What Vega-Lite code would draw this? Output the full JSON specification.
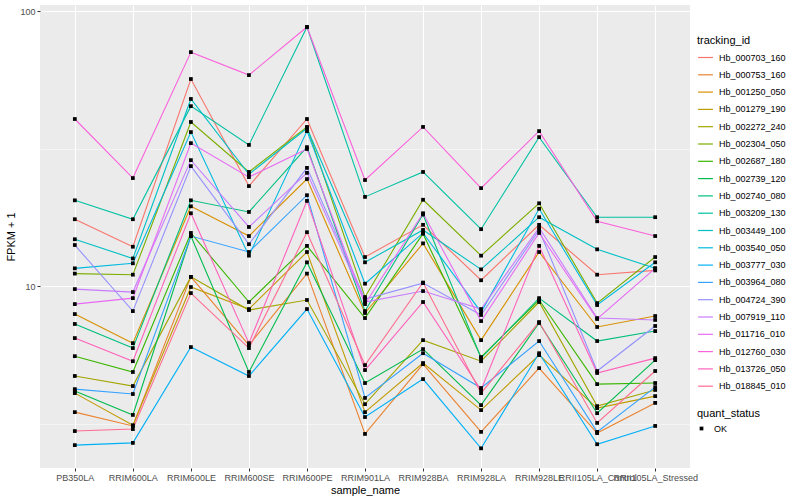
{
"$schema":"https://vega.github.io/schema/vega-lite/v6.json",
"width":650,"height":463,
"autosize":{"type":"none"},
"padding":{"left":40,"top":5,"right":110,"bottom":32},
"background":"white",
"config":{
 "view":{"fill":"#EBEBEB","stroke":null},
 "font":"Liberation Sans",
 "axis":{"domain":false,"gridColor":"white","tickColor":"#333333","tickSize":3,"labelColor":"#4D4D4D","labelFontSize":9,"titleFontSize":11,"titleFontWeight":"normal","titleColor":"black"},
 "legend":{"titleFontSize":11,"titleFontWeight":"normal","titleColor":"black","labelFontSize":9,"labelColor":"black"}
},
"datasets":{"d":[
{"tracking_id":"Hb_000703_160","sample_name":"PB350LA","fpkm":17.5,"quant_status":"OK"},
{"tracking_id":"Hb_000703_160","sample_name":"RRIM600LA","fpkm":13.9,"quant_status":"OK"},
{"tracking_id":"Hb_000703_160","sample_name":"RRIM600LE","fpkm":56.6,"quant_status":"OK"},
{"tracking_id":"Hb_000703_160","sample_name":"RRIM600SE","fpkm":23.1,"quant_status":"OK"},
{"tracking_id":"Hb_000703_160","sample_name":"RRIM600PE","fpkm":40.5,"quant_status":"OK"},
{"tracking_id":"Hb_000703_160","sample_name":"RRIM901LA","fpkm":12.75,"quant_status":"OK"},
{"tracking_id":"Hb_000703_160","sample_name":"RRIM928BA","fpkm":16.7,"quant_status":"OK"},
{"tracking_id":"Hb_000703_160","sample_name":"RRIM928LA","fpkm":10.5,"quant_status":"OK"},
{"tracking_id":"Hb_000703_160","sample_name":"RRIM928LE","fpkm":16.7,"quant_status":"OK"},
{"tracking_id":"Hb_000703_160","sample_name":"RRII105LA_Control","fpkm":11.0,"quant_status":"OK"},
{"tracking_id":"Hb_000703_160","sample_name":"RRII105LA_Stressed","fpkm":11.4,"quant_status":"OK"},
{"tracking_id":"Hb_000753_160","sample_name":"PB350LA","fpkm":3.48,"quant_status":"OK"},
{"tracking_id":"Hb_000753_160","sample_name":"RRIM600LA","fpkm":3.10,"quant_status":"OK"},
{"tracking_id":"Hb_000753_160","sample_name":"RRIM600LE","fpkm":10.8,"quant_status":"OK"},
{"tracking_id":"Hb_000753_160","sample_name":"RRIM600SE","fpkm":6.10,"quant_status":"OK"},
{"tracking_id":"Hb_000753_160","sample_name":"RRIM600PE","fpkm":11.1,"quant_status":"OK"},
{"tracking_id":"Hb_000753_160","sample_name":"RRIM901LA","fpkm":2.90,"quant_status":"OK"},
{"tracking_id":"Hb_000753_160","sample_name":"RRIM928BA","fpkm":5.20,"quant_status":"OK"},
{"tracking_id":"Hb_000753_160","sample_name":"RRIM928LA","fpkm":2.95,"quant_status":"OK"},
{"tracking_id":"Hb_000753_160","sample_name":"RRIM928LE","fpkm":5.03,"quant_status":"OK"},
{"tracking_id":"Hb_000753_160","sample_name":"RRII105LA_Control","fpkm":2.92,"quant_status":"OK"},
{"tracking_id":"Hb_000753_160","sample_name":"RRII105LA_Stressed","fpkm":3.76,"quant_status":"OK"},
{"tracking_id":"Hb_001250_050","sample_name":"PB350LA","fpkm":7.91,"quant_status":"OK"},
{"tracking_id":"Hb_001250_050","sample_name":"RRIM600LA","fpkm":6.20,"quant_status":"OK"},
{"tracking_id":"Hb_001250_050","sample_name":"RRIM600LE","fpkm":19.5,"quant_status":"OK"},
{"tracking_id":"Hb_001250_050","sample_name":"RRIM600SE","fpkm":15.2,"quant_status":"OK"},
{"tracking_id":"Hb_001250_050","sample_name":"RRIM600PE","fpkm":24.5,"quant_status":"OK"},
{"tracking_id":"Hb_001250_050","sample_name":"RRIM901LA","fpkm":7.98,"quant_status":"OK"},
{"tracking_id":"Hb_001250_050","sample_name":"RRIM928BA","fpkm":14.3,"quant_status":"OK"},
{"tracking_id":"Hb_001250_050","sample_name":"RRIM928LA","fpkm":6.36,"quant_status":"OK"},
{"tracking_id":"Hb_001250_050","sample_name":"RRIM928LE","fpkm":13.3,"quant_status":"OK"},
{"tracking_id":"Hb_001250_050","sample_name":"RRII105LA_Control","fpkm":7.10,"quant_status":"OK"},
{"tracking_id":"Hb_001250_050","sample_name":"RRII105LA_Stressed","fpkm":7.78,"quant_status":"OK"},
{"tracking_id":"Hb_001279_190","sample_name":"PB350LA","fpkm":4.08,"quant_status":"OK"},
{"tracking_id":"Hb_001279_190","sample_name":"RRIM600LA","fpkm":3.12,"quant_status":"OK"},
{"tracking_id":"Hb_001279_190","sample_name":"RRIM600LE","fpkm":9.92,"quant_status":"OK"},
{"tracking_id":"Hb_001279_190","sample_name":"RRIM600SE","fpkm":8.25,"quant_status":"OK"},
{"tracking_id":"Hb_001279_190","sample_name":"RRIM600PE","fpkm":13.3,"quant_status":"OK"},
{"tracking_id":"Hb_001279_190","sample_name":"RRIM901LA","fpkm":3.48,"quant_status":"OK"},
{"tracking_id":"Hb_001279_190","sample_name":"RRIM928BA","fpkm":5.25,"quant_status":"OK"},
{"tracking_id":"Hb_001279_190","sample_name":"RRIM928LA","fpkm":3.54,"quant_status":"OK"},
{"tracking_id":"Hb_001279_190","sample_name":"RRIM928LE","fpkm":5.61,"quant_status":"OK"},
{"tracking_id":"Hb_001279_190","sample_name":"RRII105LA_Control","fpkm":3.60,"quant_status":"OK"},
{"tracking_id":"Hb_001279_190","sample_name":"RRII105LA_Stressed","fpkm":3.98,"quant_status":"OK"},
{"tracking_id":"Hb_002272_240","sample_name":"PB350LA","fpkm":4.71,"quant_status":"OK"},
{"tracking_id":"Hb_002272_240","sample_name":"RRIM600LA","fpkm":4.33,"quant_status":"OK"},
{"tracking_id":"Hb_002272_240","sample_name":"RRIM600LE","fpkm":10.8,"quant_status":"OK"},
{"tracking_id":"Hb_002272_240","sample_name":"RRIM600SE","fpkm":8.18,"quant_status":"OK"},
{"tracking_id":"Hb_002272_240","sample_name":"RRIM600PE","fpkm":8.90,"quant_status":"OK"},
{"tracking_id":"Hb_002272_240","sample_name":"RRIM901LA","fpkm":3.72,"quant_status":"OK"},
{"tracking_id":"Hb_002272_240","sample_name":"RRIM928BA","fpkm":6.36,"quant_status":"OK"},
{"tracking_id":"Hb_002272_240","sample_name":"RRIM928LA","fpkm":5.33,"quant_status":"OK"},
{"tracking_id":"Hb_002272_240","sample_name":"RRIM928LE","fpkm":8.75,"quant_status":"OK"},
{"tracking_id":"Hb_002272_240","sample_name":"RRII105LA_Control","fpkm":3.66,"quant_status":"OK"},
{"tracking_id":"Hb_002272_240","sample_name":"RRII105LA_Stressed","fpkm":4.19,"quant_status":"OK"},
{"tracking_id":"Hb_002304_050","sample_name":"PB350LA","fpkm":11.1,"quant_status":"OK"},
{"tracking_id":"Hb_002304_050","sample_name":"RRIM600LA","fpkm":11.0,"quant_status":"OK"},
{"tracking_id":"Hb_002304_050","sample_name":"RRIM600LE","fpkm":39.5,"quant_status":"OK"},
{"tracking_id":"Hb_002304_050","sample_name":"RRIM600SE","fpkm":26.0,"quant_status":"OK"},
{"tracking_id":"Hb_002304_050","sample_name":"RRIM600PE","fpkm":37.9,"quant_status":"OK"},
{"tracking_id":"Hb_002304_050","sample_name":"RRIM901LA","fpkm":9.12,"quant_status":"OK"},
{"tracking_id":"Hb_002304_050","sample_name":"RRIM928BA","fpkm":20.6,"quant_status":"OK"},
{"tracking_id":"Hb_002304_050","sample_name":"RRIM928LA","fpkm":12.9,"quant_status":"OK"},
{"tracking_id":"Hb_002304_050","sample_name":"RRIM928LE","fpkm":20.0,"quant_status":"OK"},
{"tracking_id":"Hb_002304_050","sample_name":"RRII105LA_Control","fpkm":8.67,"quant_status":"OK"},
{"tracking_id":"Hb_002304_050","sample_name":"RRII105LA_Stressed","fpkm":12.75,"quant_status":"OK"},
{"tracking_id":"Hb_002687_180","sample_name":"PB350LA","fpkm":5.56,"quant_status":"OK"},
{"tracking_id":"Hb_002687_180","sample_name":"RRIM600LA","fpkm":4.87,"quant_status":"OK"},
{"tracking_id":"Hb_002687_180","sample_name":"RRIM600LE","fpkm":15.6,"quant_status":"OK"},
{"tracking_id":"Hb_002687_180","sample_name":"RRIM600SE","fpkm":8.75,"quant_status":"OK"},
{"tracking_id":"Hb_002687_180","sample_name":"RRIM600PE","fpkm":14.0,"quant_status":"OK"},
{"tracking_id":"Hb_002687_180","sample_name":"RRIM901LA","fpkm":7.65,"quant_status":"OK"},
{"tracking_id":"Hb_002687_180","sample_name":"RRIM928BA","fpkm":15.5,"quant_status":"OK"},
{"tracking_id":"Hb_002687_180","sample_name":"RRIM928LA","fpkm":5.52,"quant_status":"OK"},
{"tracking_id":"Hb_002687_180","sample_name":"RRIM928LE","fpkm":8.90,"quant_status":"OK"},
{"tracking_id":"Hb_002687_180","sample_name":"RRII105LA_Control","fpkm":4.40,"quant_status":"OK"},
{"tracking_id":"Hb_002687_180","sample_name":"RRII105LA_Stressed","fpkm":4.44,"quant_status":"OK"},
{"tracking_id":"Hb_002739_120","sample_name":"PB350LA","fpkm":4.15,"quant_status":"OK"},
{"tracking_id":"Hb_002739_120","sample_name":"RRIM600LA","fpkm":3.40,"quant_status":"OK"},
{"tracking_id":"Hb_002739_120","sample_name":"RRIM600LE","fpkm":15.2,"quant_status":"OK"},
{"tracking_id":"Hb_002739_120","sample_name":"RRIM600SE","fpkm":4.87,"quant_status":"OK"},
{"tracking_id":"Hb_002739_120","sample_name":"RRIM600PE","fpkm":12.2,"quant_status":"OK"},
{"tracking_id":"Hb_002739_120","sample_name":"RRIM901LA","fpkm":4.44,"quant_status":"OK"},
{"tracking_id":"Hb_002739_120","sample_name":"RRIM928BA","fpkm":5.90,"quant_status":"OK"},
{"tracking_id":"Hb_002739_120","sample_name":"RRIM928LA","fpkm":3.69,"quant_status":"OK"},
{"tracking_id":"Hb_002739_120","sample_name":"RRIM928LE","fpkm":7.34,"quant_status":"OK"},
{"tracking_id":"Hb_002739_120","sample_name":"RRII105LA_Control","fpkm":3.45,"quant_status":"OK"},
{"tracking_id":"Hb_002739_120","sample_name":"RRII105LA_Stressed","fpkm":5.38,"quant_status":"OK"},
{"tracking_id":"Hb_002740_080","sample_name":"PB350LA","fpkm":7.28,"quant_status":"OK"},
{"tracking_id":"Hb_002740_080","sample_name":"RRIM600LA","fpkm":5.95,"quant_status":"OK"},
{"tracking_id":"Hb_002740_080","sample_name":"RRIM600LE","fpkm":20.5,"quant_status":"OK"},
{"tracking_id":"Hb_002740_080","sample_name":"RRIM600SE","fpkm":18.6,"quant_status":"OK"},
{"tracking_id":"Hb_002740_080","sample_name":"RRIM600PE","fpkm":32.0,"quant_status":"OK"},
{"tracking_id":"Hb_002740_080","sample_name":"RRIM901LA","fpkm":8.11,"quant_status":"OK"},
{"tracking_id":"Hb_002740_080","sample_name":"RRIM928BA","fpkm":18.2,"quant_status":"OK"},
{"tracking_id":"Hb_002740_080","sample_name":"RRIM928LA","fpkm":5.47,"quant_status":"OK"},
{"tracking_id":"Hb_002740_080","sample_name":"RRIM928LE","fpkm":9.04,"quant_status":"OK"},
{"tracking_id":"Hb_002740_080","sample_name":"RRII105LA_Control","fpkm":6.31,"quant_status":"OK"},
{"tracking_id":"Hb_002740_080","sample_name":"RRII105LA_Stressed","fpkm":6.86,"quant_status":"OK"},
{"tracking_id":"Hb_003209_130","sample_name":"PB350LA","fpkm":20.5,"quant_status":"OK"},
{"tracking_id":"Hb_003209_130","sample_name":"RRIM600LA","fpkm":17.5,"quant_status":"OK"},
{"tracking_id":"Hb_003209_130","sample_name":"RRIM600LE","fpkm":45.1,"quant_status":"OK"},
{"tracking_id":"Hb_003209_130","sample_name":"RRIM600SE","fpkm":32.6,"quant_status":"OK"},
{"tracking_id":"Hb_003209_130","sample_name":"RRIM600PE","fpkm":87.5,"quant_status":"OK"},
{"tracking_id":"Hb_003209_130","sample_name":"RRIM901LA","fpkm":21.1,"quant_status":"OK"},
{"tracking_id":"Hb_003209_130","sample_name":"RRIM928BA","fpkm":26.0,"quant_status":"OK"},
{"tracking_id":"Hb_003209_130","sample_name":"RRIM928LA","fpkm":16.1,"quant_status":"OK"},
{"tracking_id":"Hb_003209_130","sample_name":"RRIM928LE","fpkm":34.8,"quant_status":"OK"},
{"tracking_id":"Hb_003209_130","sample_name":"RRII105LA_Control","fpkm":17.8,"quant_status":"OK"},
{"tracking_id":"Hb_003209_130","sample_name":"RRII105LA_Stressed","fpkm":17.8,"quant_status":"OK"},
{"tracking_id":"Hb_003449_100","sample_name":"PB350LA","fpkm":14.8,"quant_status":"OK"},
{"tracking_id":"Hb_003449_100","sample_name":"RRIM600LA","fpkm":12.6,"quant_status":"OK"},
{"tracking_id":"Hb_003449_100","sample_name":"RRIM600LE","fpkm":47.9,"quant_status":"OK"},
{"tracking_id":"Hb_003449_100","sample_name":"RRIM600SE","fpkm":25.5,"quant_status":"OK"},
{"tracking_id":"Hb_003449_100","sample_name":"RRIM600PE","fpkm":37.5,"quant_status":"OK"},
{"tracking_id":"Hb_003449_100","sample_name":"RRIM901LA","fpkm":12.2,"quant_status":"OK"},
{"tracking_id":"Hb_003449_100","sample_name":"RRIM928BA","fpkm":16.0,"quant_status":"OK"},
{"tracking_id":"Hb_003449_100","sample_name":"RRIM928LA","fpkm":11.5,"quant_status":"OK"},
{"tracking_id":"Hb_003449_100","sample_name":"RRIM928LE","fpkm":17.8,"quant_status":"OK"},
{"tracking_id":"Hb_003449_100","sample_name":"RRII105LA_Control","fpkm":13.6,"quant_status":"OK"},
{"tracking_id":"Hb_003449_100","sample_name":"RRII105LA_Stressed","fpkm":11.6,"quant_status":"OK"},
{"tracking_id":"Hb_003540_050","sample_name":"PB350LA","fpkm":11.6,"quant_status":"OK"},
{"tracking_id":"Hb_003540_050","sample_name":"RRIM600LA","fpkm":12.1,"quant_status":"OK"},
{"tracking_id":"Hb_003540_050","sample_name":"RRIM600LE","fpkm":36.3,"quant_status":"OK"},
{"tracking_id":"Hb_003540_050","sample_name":"RRIM600SE","fpkm":12.9,"quant_status":"OK"},
{"tracking_id":"Hb_003540_050","sample_name":"RRIM600PE","fpkm":36.6,"quant_status":"OK"},
{"tracking_id":"Hb_003540_050","sample_name":"RRIM901LA","fpkm":10.2,"quant_status":"OK"},
{"tracking_id":"Hb_003540_050","sample_name":"RRIM928BA","fpkm":15.6,"quant_status":"OK"},
{"tracking_id":"Hb_003540_050","sample_name":"RRIM928LA","fpkm":8.04,"quant_status":"OK"},
{"tracking_id":"Hb_003540_050","sample_name":"RRIM928LE","fpkm":19.1,"quant_status":"OK"},
{"tracking_id":"Hb_003540_050","sample_name":"RRII105LA_Control","fpkm":8.53,"quant_status":"OK"},
{"tracking_id":"Hb_003540_050","sample_name":"RRII105LA_Stressed","fpkm":12.2,"quant_status":"OK"},
{"tracking_id":"Hb_003777_030","sample_name":"PB350LA","fpkm":2.64,"quant_status":"OK"},
{"tracking_id":"Hb_003777_030","sample_name":"RRIM600LA","fpkm":2.69,"quant_status":"OK"},
{"tracking_id":"Hb_003777_030","sample_name":"RRIM600LE","fpkm":6.00,"quant_status":"OK"},
{"tracking_id":"Hb_003777_030","sample_name":"RRIM600SE","fpkm":4.71,"quant_status":"OK"},
{"tracking_id":"Hb_003777_030","sample_name":"RRIM600PE","fpkm":8.25,"quant_status":"OK"},
{"tracking_id":"Hb_003777_030","sample_name":"RRIM901LA","fpkm":3.34,"quant_status":"OK"},
{"tracking_id":"Hb_003777_030","sample_name":"RRIM928BA","fpkm":4.59,"quant_status":"OK"},
{"tracking_id":"Hb_003777_030","sample_name":"RRIM928LA","fpkm":2.57,"quant_status":"OK"},
{"tracking_id":"Hb_003777_030","sample_name":"RRIM928LE","fpkm":5.70,"quant_status":"OK"},
{"tracking_id":"Hb_003777_030","sample_name":"RRII105LA_Control","fpkm":2.66,"quant_status":"OK"},
{"tracking_id":"Hb_003777_030","sample_name":"RRII105LA_Stressed","fpkm":3.10,"quant_status":"OK"},
{"tracking_id":"Hb_003964_080","sample_name":"PB350LA","fpkm":4.22,"quant_status":"OK"},
{"tracking_id":"Hb_003964_080","sample_name":"RRIM600LA","fpkm":4.05,"quant_status":"OK"},
{"tracking_id":"Hb_003964_080","sample_name":"RRIM600LE","fpkm":15.2,"quant_status":"OK"},
{"tracking_id":"Hb_003964_080","sample_name":"RRIM600SE","fpkm":13.3,"quant_status":"OK"},
{"tracking_id":"Hb_003964_080","sample_name":"RRIM600PE","fpkm":21.4,"quant_status":"OK"},
{"tracking_id":"Hb_003964_080","sample_name":"RRIM901LA","fpkm":3.92,"quant_status":"OK"},
{"tracking_id":"Hb_003964_080","sample_name":"RRIM928BA","fpkm":5.70,"quant_status":"OK"},
{"tracking_id":"Hb_003964_080","sample_name":"RRIM928LA","fpkm":4.26,"quant_status":"OK"},
{"tracking_id":"Hb_003964_080","sample_name":"RRIM928LE","fpkm":6.31,"quant_status":"OK"},
{"tracking_id":"Hb_003964_080","sample_name":"RRII105LA_Control","fpkm":2.95,"quant_status":"OK"},
{"tracking_id":"Hb_003964_080","sample_name":"RRII105LA_Stressed","fpkm":4.29,"quant_status":"OK"},
{"tracking_id":"Hb_004724_390","sample_name":"PB350LA","fpkm":14.1,"quant_status":"OK"},
{"tracking_id":"Hb_004724_390","sample_name":"RRIM600LA","fpkm":8.11,"quant_status":"OK"},
{"tracking_id":"Hb_004724_390","sample_name":"RRIM600LE","fpkm":27.3,"quant_status":"OK"},
{"tracking_id":"Hb_004724_390","sample_name":"RRIM600SE","fpkm":14.2,"quant_status":"OK"},
{"tracking_id":"Hb_004724_390","sample_name":"RRIM600PE","fpkm":26.9,"quant_status":"OK"},
{"tracking_id":"Hb_004724_390","sample_name":"RRIM901LA","fpkm":8.97,"quant_status":"OK"},
{"tracking_id":"Hb_004724_390","sample_name":"RRIM928BA","fpkm":10.25,"quant_status":"OK"},
{"tracking_id":"Hb_004724_390","sample_name":"RRIM928LA","fpkm":7.85,"quant_status":"OK"},
{"tracking_id":"Hb_004724_390","sample_name":"RRIM928LE","fpkm":16.0,"quant_status":"OK"},
{"tracking_id":"Hb_004724_390","sample_name":"RRII105LA_Control","fpkm":4.91,"quant_status":"OK"},
{"tracking_id":"Hb_004724_390","sample_name":"RRII105LA_Stressed","fpkm":7.16,"quant_status":"OK"},
{"tracking_id":"Hb_007919_110","sample_name":"PB350LA","fpkm":9.75,"quant_status":"OK"},
{"tracking_id":"Hb_007919_110","sample_name":"RRIM600LA","fpkm":9.51,"quant_status":"OK"},
{"tracking_id":"Hb_007919_110","sample_name":"RRIM600LE","fpkm":28.7,"quant_status":"OK"},
{"tracking_id":"Hb_007919_110","sample_name":"RRIM600SE","fpkm":16.4,"quant_status":"OK"},
{"tracking_id":"Hb_007919_110","sample_name":"RRIM600PE","fpkm":25.8,"quant_status":"OK"},
{"tracking_id":"Hb_007919_110","sample_name":"RRIM901LA","fpkm":8.75,"quant_status":"OK"},
{"tracking_id":"Hb_007919_110","sample_name":"RRIM928BA","fpkm":9.59,"quant_status":"OK"},
{"tracking_id":"Hb_007919_110","sample_name":"RRIM928LA","fpkm":8.25,"quant_status":"OK"},
{"tracking_id":"Hb_007919_110","sample_name":"RRIM928LE","fpkm":16.3,"quant_status":"OK"},
{"tracking_id":"Hb_007919_110","sample_name":"RRII105LA_Control","fpkm":7.65,"quant_status":"OK"},
{"tracking_id":"Hb_007919_110","sample_name":"RRII105LA_Stressed","fpkm":7.53,"quant_status":"OK"},
{"tracking_id":"Hb_011716_010","sample_name":"PB350LA","fpkm":8.60,"quant_status":"OK"},
{"tracking_id":"Hb_011716_010","sample_name":"RRIM600LA","fpkm":9.04,"quant_status":"OK"},
{"tracking_id":"Hb_011716_010","sample_name":"RRIM600LE","fpkm":33.1,"quant_status":"OK"},
{"tracking_id":"Hb_011716_010","sample_name":"RRIM600SE","fpkm":24.9,"quant_status":"OK"},
{"tracking_id":"Hb_011716_010","sample_name":"RRIM600PE","fpkm":31.5,"quant_status":"OK"},
{"tracking_id":"Hb_011716_010","sample_name":"RRIM901LA","fpkm":8.60,"quant_status":"OK"},
{"tracking_id":"Hb_011716_010","sample_name":"RRIM928BA","fpkm":18.4,"quant_status":"OK"},
{"tracking_id":"Hb_011716_010","sample_name":"RRIM928LA","fpkm":7.46,"quant_status":"OK"},
{"tracking_id":"Hb_011716_010","sample_name":"RRIM928LE","fpkm":15.6,"quant_status":"OK"},
{"tracking_id":"Hb_011716_010","sample_name":"RRII105LA_Control","fpkm":7.59,"quant_status":"OK"},
{"tracking_id":"Hb_011716_010","sample_name":"RRII105LA_Stressed","fpkm":11.6,"quant_status":"OK"},
{"tracking_id":"Hb_012760_030","sample_name":"PB350LA","fpkm":40.5,"quant_status":"OK"},
{"tracking_id":"Hb_012760_030","sample_name":"RRIM600LA","fpkm":24.7,"quant_status":"OK"},
{"tracking_id":"Hb_012760_030","sample_name":"RRIM600LE","fpkm":70.9,"quant_status":"OK"},
{"tracking_id":"Hb_012760_030","sample_name":"RRIM600SE","fpkm":58.5,"quant_status":"OK"},
{"tracking_id":"Hb_012760_030","sample_name":"RRIM600PE","fpkm":87.5,"quant_status":"OK"},
{"tracking_id":"Hb_012760_030","sample_name":"RRIM901LA","fpkm":24.3,"quant_status":"OK"},
{"tracking_id":"Hb_012760_030","sample_name":"RRIM928BA","fpkm":37.9,"quant_status":"OK"},
{"tracking_id":"Hb_012760_030","sample_name":"RRIM928LA","fpkm":22.7,"quant_status":"OK"},
{"tracking_id":"Hb_012760_030","sample_name":"RRIM928LE","fpkm":36.6,"quant_status":"OK"},
{"tracking_id":"Hb_012760_030","sample_name":"RRII105LA_Control","fpkm":17.2,"quant_status":"OK"},
{"tracking_id":"Hb_012760_030","sample_name":"RRII105LA_Stressed","fpkm":15.2,"quant_status":"OK"},
{"tracking_id":"Hb_013726_050","sample_name":"PB350LA","fpkm":6.47,"quant_status":"OK"},
{"tracking_id":"Hb_013726_050","sample_name":"RRIM600LA","fpkm":5.33,"quant_status":"OK"},
{"tracking_id":"Hb_013726_050","sample_name":"RRIM600LE","fpkm":18.4,"quant_status":"OK"},
{"tracking_id":"Hb_013726_050","sample_name":"RRIM600SE","fpkm":6.20,"quant_status":"OK"},
{"tracking_id":"Hb_013726_050","sample_name":"RRIM600PE","fpkm":20.4,"quant_status":"OK"},
{"tracking_id":"Hb_013726_050","sample_name":"RRIM901LA","fpkm":4.95,"quant_status":"OK"},
{"tracking_id":"Hb_013726_050","sample_name":"RRIM928BA","fpkm":8.75,"quant_status":"OK"},
{"tracking_id":"Hb_013726_050","sample_name":"RRIM928LA","fpkm":4.19,"quant_status":"OK"},
{"tracking_id":"Hb_013726_050","sample_name":"RRIM928LE","fpkm":14.0,"quant_status":"OK"},
{"tracking_id":"Hb_013726_050","sample_name":"RRII105LA_Control","fpkm":4.83,"quant_status":"OK"},
{"tracking_id":"Hb_013726_050","sample_name":"RRII105LA_Stressed","fpkm":5.47,"quant_status":"OK"},
{"tracking_id":"Hb_018845_010","sample_name":"PB350LA","fpkm":2.97,"quant_status":"OK"},
{"tracking_id":"Hb_018845_010","sample_name":"RRIM600LA","fpkm":3.02,"quant_status":"OK"},
{"tracking_id":"Hb_018845_010","sample_name":"RRIM600LE","fpkm":9.43,"quant_status":"OK"},
{"tracking_id":"Hb_018845_010","sample_name":"RRIM600SE","fpkm":5.95,"quant_status":"OK"},
{"tracking_id":"Hb_018845_010","sample_name":"RRIM600PE","fpkm":15.7,"quant_status":"OK"},
{"tracking_id":"Hb_018845_010","sample_name":"RRIM901LA","fpkm":5.16,"quant_status":"OK"},
{"tracking_id":"Hb_018845_010","sample_name":"RRIM928BA","fpkm":10.3,"quant_status":"OK"},
{"tracking_id":"Hb_018845_010","sample_name":"RRIM928LA","fpkm":4.08,"quant_status":"OK"},
{"tracking_id":"Hb_018845_010","sample_name":"RRIM928LE","fpkm":7.40,"quant_status":"OK"},
{"tracking_id":"Hb_018845_010","sample_name":"RRII105LA_Control","fpkm":3.18,"quant_status":"OK"},
{"tracking_id":"Hb_018845_010","sample_name":"RRII105LA_Stressed","fpkm":4.91,"quant_status":"OK"}
]},
"data":{"name":"d"},
"encoding":{
 "x":{"field":"sample_name","type":"ordinal","sort":["PB350LA","RRIM600LA","RRIM600LE","RRIM600SE","RRIM600PE","RRIM901LA","RRIM928BA","RRIM928LA","RRIM928LE","RRII105LA_Control","RRII105LA_Stressed"],
  "scale":{"type":"point","padding":0.6},
  "axis":{"title":"sample_name","labelAngle":0,"grid":true,"gridWidth":1.1,"labelPadding":2,"titlePadding":2,"labelOverlap":false,"labelBound":false}},
 "y":{"field":"fpkm","type":"quantitative",
  "scale":{"type":"log","domain":[2.18,105.2],"nice":false,"zero":false},
  "axis":{"title":"FPKM + 1","values":[3.1623,10,31.623,100],
   "labelExpr":"datum.value == 10 ? '10' : (datum.value == 100 ? '100' : '')",
   "gridWidth":{"condition":{"test":"datum.value == 10 || datum.value == 100","value":1.1},"value":0.5},
   "tickOpacity":{"condition":{"test":"datum.value == 10 || datum.value == 100","value":1},"value":0},
   "labelPadding":2,"titlePadding":3,"labelOverlap":false}}
},
"layer":[
 {"mark":{"type":"line","strokeWidth":1.1},
  "encoding":{
   "color":{"field":"tracking_id","type":"nominal",
    "scale":{"range":["#F8766D","#EA8331","#D89000","#C09B00","#A3A500","#7CAE00","#39B600","#00BB4E","#00BF7D","#00C1A3","#00BFC4","#00BAE0","#00B0F6","#35A2FF","#9590FF","#C77CFF","#E76BF3","#FA62DB","#FF62BC","#FF6C91"]},
    "legend":{"title":"tracking_id","orient":"none","legendX":657,"legendY":30,"symbolType":"stroke","symbolStrokeWidth":1.2,"symbolSize":220,"rowPadding":3.3,"labelOffset":5,"titlePadding":3}},
   "order":{"value":null}}},
 {"mark":{"type":"point","filled":true,"color":"black","opacity":1,"size":14},
  "encoding":{
   "shape":{"field":"quant_status","type":"nominal","scale":{"range":["square"]},
    "legend":{"title":"quant_status","orient":"none","legendX":657,"legendY":403,"symbolFillColor":"black","symbolStrokeColor":"black","symbolSize":14,"labelOffset":8,"titlePadding":5}}}}
]
}
